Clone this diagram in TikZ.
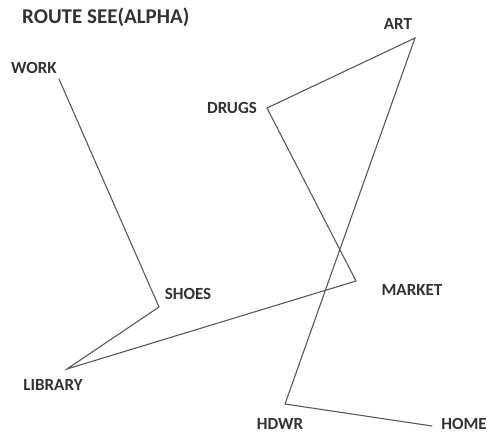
\documentclass[tikz,border=0pt]{standalone}
\usepackage{fontspec}
\setmainfont{Carlito}
\usepackage{tikz}
\usetikzlibrary{calc,positioning}
\definecolor{routeink}{HTML}{333333}
\definecolor{routeline}{HTML}{5A5A5A}

\begin{document}
\begin{tikzpicture}[x=1pt,y=-1pt,line cap=round,line join=miter,
  font=\bfseries\fontsize{17}{19}\selectfont,text=routeink,
  stop/.style={inner sep=0pt},
  leg/.style={routeline,line width=1.1pt}]
\path[use as bounding box] (0,0) rectangle (487,433);
\fill[white] (0,0) rectangle (487,433);
\node[stop,anchor=west,font=\bfseries\fontsize{21}{23}\selectfont] (title) at (22,17) {ROUTE SEE(ALPHA)};

% corners of the route
\coordinate (work) at (59,79);
\coordinate (shoes) at (159,307);
\coordinate (library) at (67,369);
\coordinate (market) at (356,281);
\coordinate (drugs) at (267,108);
\coordinate (art) at (415,38);
\coordinate (hdwr) at (285,404);
\coordinate (home) at (432,426);

% the route
\draw[leg] (work)--(shoes)--(library)--(market)--(drugs)--(art)--(hdwr)--(home);

% stop names
\node[stop] (workname) at (34,68) {WORK};
\node[stop] (shoesname) at (188,294) {SHOES};
\node[stop] (libraryname) at (53,385) {LIBRARY};
\node[stop] (marketname) at (412,290) {MARKET};
\node[stop] (drugsname) at (232,108) {DRUGS};
\node[stop] (artname) at (398,24) {ART};
\node[stop] (hdwrname) at (280,424) {HDWR};
\node[stop] (homename) at (464,424) {HOME};
\end{tikzpicture}
\end{document}
